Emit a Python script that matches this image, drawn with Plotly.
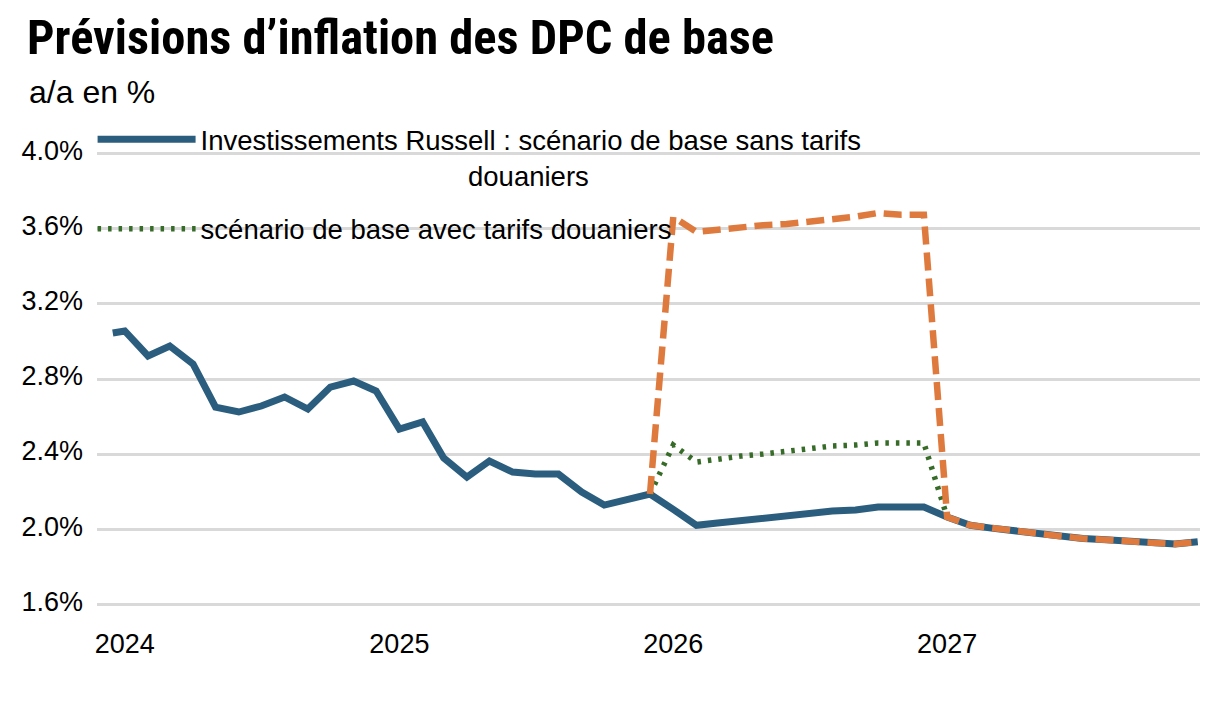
import plotly.graph_objects as go

# ---- data ----
dates = ["2023-12-16"] + [f"{y}-{m:02d}-01" for y in (2024, 2025, 2026, 2027) for m in range(1, 13)]

base_sans_tarifs = [
    3.045,
    3.056, 2.923, 2.976, 2.880, 2.650, 2.624, 2.656, 2.704, 2.640, 2.757, 2.789, 2.736,
    2.533, 2.571, 2.379, 2.277, 2.363, 2.304, 2.293, 2.293, 2.197, 2.128, 2.155, 2.187,
    2.105, 2.020, 2.032, 2.046, 2.058, 2.070, 2.084, 2.096, 2.102, 2.118, 2.118, 2.118,
    2.064, 2.020, 2.005, 1.990, 1.975, 1.962, 1.950, 1.943, 1.935, 1.922, 1.920, 1.932,
]

base_avec_tarifs = [None] * 24 + [
    2.187,
    2.448, 2.357, 2.373, 2.389, 2.400, 2.416, 2.430, 2.443, 2.448, 2.459, 2.459, 2.459,
    2.064,
] + [None] * 11

scenario_orange = [None] * 24 + [
    2.187,
    3.664, 3.584, 3.598, 3.610, 3.620, 3.626, 3.636, 3.648, 3.665, 3.685, 3.675, 3.675,
    2.064, 2.020, 2.005, 1.990, 1.975, 1.962, 1.950, 1.943, 1.935, 1.922, 1.920, 1.932,
]

y_ticks = [1.6, 2.0, 2.4, 2.8, 3.2, 3.6, 4.0]
y_tick_text = ["1.6%", "2.0%", "2.4%", "2.8%", "3.2%", "3.6%", "4.0%"]
x_ticks = ["2024-01-01", "2025-01-01", "2026-01-01", "2027-01-01"]
x_tick_text = ["2024", "2025", "2026", "2027"]

title = "Prévisions d’inflation des DPC de base"
subtitle = "a/a en %"
name_blue = ("Investissements Russell : scénario de base sans tarifs<br>"
             + "\u00a0" * 35 + "douaniers")
name_green = "scénario de base avec tarifs douaniers"

BLUE = "#2B5E7E"
GREEN = "#376B28"
ORANGE = "#DF7A3E"
TXT = "Liberation Sans, Arial, sans-serif"

W, H = 1216, 720
L, R, T, B = 89, 24, 144, 122
PW, PH = W - L - R, H - T - B

fig = go.Figure()
fig.add_trace(go.Scatter(
    x=dates, y=base_sans_tarifs, mode="lines", name=name_blue,
    line=dict(color=BLUE, width=7), legendgroup="a",
))
fig.add_trace(go.Scatter(
    x=dates, y=base_avec_tarifs, mode="lines", name=name_green,
    line=dict(color=GREEN, width=5.5, dash="3.5px,7px"), legendgroup="b",
))
fig.add_trace(go.Scatter(
    x=dates, y=scenario_orange, mode="lines", showlegend=False,
    line=dict(color=ORANGE, width=6.5, dash="18px,8px"),
))

fig.update_layout(
    width=W, height=H,
    margin=dict(l=L, r=R, t=T, b=B),
    paper_bgcolor="white", plot_bgcolor="white",
    title=dict(text=title, x=19 / W, xref="container", xanchor="left",
               y=1 - 12 / H, yref="container", yanchor="top",
               font=dict(family="Liberation Sans Narrow, Roboto Condensed, DejaVu Sans Condensed, sans-serif",
                         size=48.5, color="black", weight="bold")),
    annotations=[dict(text=subtitle, x=(19 - L) / PW, xref="paper", xanchor="left",
                      y=(H - B - 84) / PH, yref="paper", yanchor="middle", showarrow=False,
                      font=dict(family=TXT, size=32, color="black"))],
    legend=dict(x=-0.004, xanchor="left", y=1.082, yanchor="top",
                bgcolor="rgba(0,0,0,0)", font=dict(family=TXT, size=27.5, color="black"),
                itemwidth=98, valign="top", tracegroupgap=15),
    xaxis=dict(type="date", range=["2023-11-25", "2027-12-04"],
               tickmode="array", tickvals=x_ticks, ticktext=x_tick_text,
               showgrid=False, zeroline=False, showline=False, ticks="",
               ticklabelstandoff=19,
               tickfont=dict(family=TXT, size=27, color="black")),
    yaxis=dict(range=[1.59, 4.01], tickmode="array", tickvals=y_ticks, ticktext=y_tick_text,
               showgrid=True, gridcolor="#D9D9D9", gridwidth=2.5, zeroline=False,
               showline=False, ticks="", ticklabelstandoff=13, ticklabelshift=-3,
               tickfont=dict(family=TXT, size=27, color="black")),
)

fig.write_html("out.html")
